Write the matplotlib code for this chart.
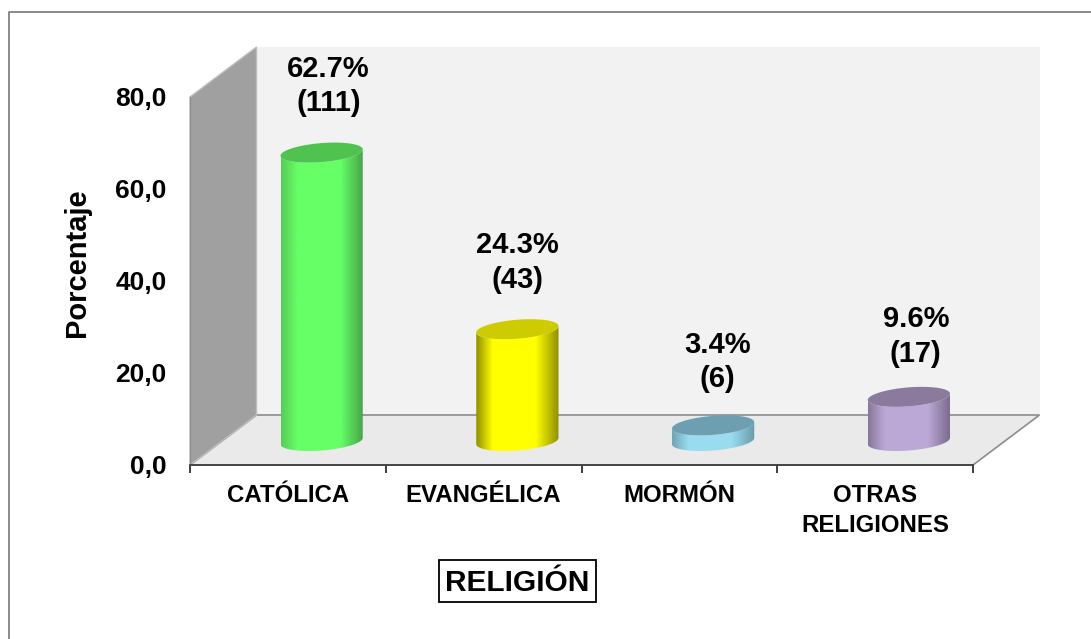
import numpy as np
import matplotlib
matplotlib.use('Agg')
import matplotlib.pyplot as plt
from matplotlib.colors import LinearSegmentedColormap
from matplotlib.lines import Line2D
from matplotlib.patches import Polygon, Rectangle

categories = ['CATÓLICA', 'EVANGÉLICA', 'MORMÓN', 'OTRAS\nRELIGIONES']
porcentajes = [62.7, 24.3, 3.4, 9.6]
casos = [111, 43, 6, 17]
y_ticks = [0, 20, 40, 60, 80]

body_colors = ['#66FF66', '#FFFF00', '#9ADCF0', '#BCA8D6']
left_colors = ['#55CC55', '#8F8F00', '#6FA5B5', '#85779A']
right_colors = ['#47A047', '#8F8F00', '#6A9AAA', '#77698A']
top_colors = ['#4FC24F', '#CCCC00', '#6E9FB0', '#8A7B9E']
label_dx = [5, 0, 3, 5]
label_dy = [48, 48, 45.5, 43.5]

plt.rcParams['font.family'] = ['Liberation Sans', 'DejaVu Sans']

W, H = 1091, 639
fig = plt.figure(figsize=(W / 100, H / 100), dpi=100)
fig.patch.set_facecolor('white')

# plano frontal del grafico, en pixeles de la figura
left, right, bottom, top = 190, 973, 465, 97
ax = fig.add_axes([left / W, 1 - bottom / H, (right - left) / W, (bottom - top) / H])
ax.set_xlim(0, 4)
ax.set_ylim(0, 80)
ax.patch.set_visible(False)

# profundidad del efecto 3D, en unidades de datos
px_x = (right - left) / 4
px_y = (bottom - top) / 80
depth_x = 66.5 / px_x
depth_y = 50 / px_y

# paredes y piso
back = Polygon([(depth_x, depth_y), (4 + depth_x, depth_y), (4 + depth_x, 80 + depth_y), (depth_x, 80 + depth_y)],
               facecolor='#F2F2F2', edgecolor='none', clip_on=False, zorder=1)
side = Polygon([(0, 0), (depth_x, depth_y), (depth_x, 80 + depth_y), (0, 80)],
               facecolor='#A0A0A0', edgecolor='#BDBDBD', lw=1, clip_on=False, zorder=1.2)
floor = Polygon([(0, 0), (4, 0), (4 + depth_x, depth_y), (depth_x, depth_y)],
                facecolor='#EAEAEA', edgecolor='#8C8C8C', lw=1.2, clip_on=False, zorder=1.1)
ax.add_patch(back)
ax.add_patch(floor)
ax.add_patch(side)

# cilindros
A = 39 / px_x
Bx = 13 / px_x
By = 10 / px_y
t0 = np.arctan2(Bx, A)
low = np.linspace(t0, t0 - np.pi, 60)
full = np.linspace(0, 2 * np.pi, 120)

for i, val in enumerate(porcentajes):
    cx = i + 0.5 + (depth_x + 1 / px_x) / 2
    cy = depth_y / 2 - 1 / px_y
    x_low = cx + A * np.cos(low) + Bx * np.sin(low)
    y_low = By * np.sin(low)
    body_x = np.concatenate([x_low, x_low[::-1]])
    body_y = np.concatenate([cy + y_low, cy + val + y_low[::-1]])
    body = Polygon(np.column_stack([body_x, body_y]), closed=True, facecolor='none', edgecolor='none', zorder=3)
    ax.add_patch(body)

    cmap = LinearSegmentedColormap.from_list('c', [(0, left_colors[i]), (0.2, body_colors[i]),
                                                   (0.72, body_colors[i]), (1, right_colors[i])])
    half = np.hypot(A, Bx)
    grad = np.linspace(0, 1, 256).reshape(1, -1)
    im = ax.imshow(grad, cmap=cmap, aspect='auto', zorder=3, vmin=0, vmax=1,
                   extent=[cx - half, cx + half, cy - By - 1, cy + val + By + 1])
    im.set_clip_path(body)

    tx = cx + A * np.cos(full) + Bx * np.sin(full)
    ty = cy + val + By * np.sin(full)
    ax.fill(tx, ty, color=top_colors[i], lw=0, zorder=4)

    ax.annotate(f'{val}%\n({casos[i]})', xy=(cx, cy + val), xytext=(label_dx[i], label_dy[i]),
                textcoords='offset points', ha='center', va='center', fontsize=21,
                fontweight='bold', color='black', linespacing=1.3, zorder=5, annotation_clip=False)

ax.set_xlim(0, 4)
ax.set_ylim(0, 80)

# ejes
for name in ['top', 'right']:
    ax.spines[name].set_visible(False)
ax.spines['left'].set_color('#8C8C8C')
ax.spines['bottom'].set_color('#404040')
ax.spines['bottom'].set_linewidth(1.3)
ax.spines['left'].set_zorder(2)
ax.set_xticks(range(5))
ax.set_xticklabels([])
ax.tick_params(axis='x', length=6, width=1.3, color='#303030')
ax.set_yticks(y_ticks)
ax.set_yticklabels([f'{v:.1f}'.replace('.', ',') for v in y_ticks], fontsize=19, fontweight='bold')
ax.tick_params(axis='y', length=0, pad=17)

for i, name in enumerate(categories):
    ax.text(i + 0.5, -4.2, name, ha='center', va='top', fontsize=17.3, fontweight='bold',
            linespacing=1.35, clip_on=False)

fig.text(77 / W, 1 - 263 / H, 'Porcentaje', rotation=90, ha='center', va='center', fontsize=21, fontweight='bold')

# titulo del eje con recuadro
fig.text(517.5 / W, 1 - 583 / H, 'RELIGIÓN', ha='center', va='center', fontsize=21.5, fontweight='bold')
fig.add_artist(Rectangle((439 / W, 1 - 602 / H), 157 / W, 42 / H, transform=fig.transFigure,
                         facecolor='none', edgecolor='black', lw=1.3))

# borde exterior, solo arriba e izquierda quedan dentro de la imagen
fig.add_artist(Line2D([9 / W, 9 / W, 1], [0, 1 - 12 / H, 1 - 12 / H], transform=fig.transFigure,
                      color='#8A8A8A', lw=1.4))

fig.savefig('out.png', dpi=100)
